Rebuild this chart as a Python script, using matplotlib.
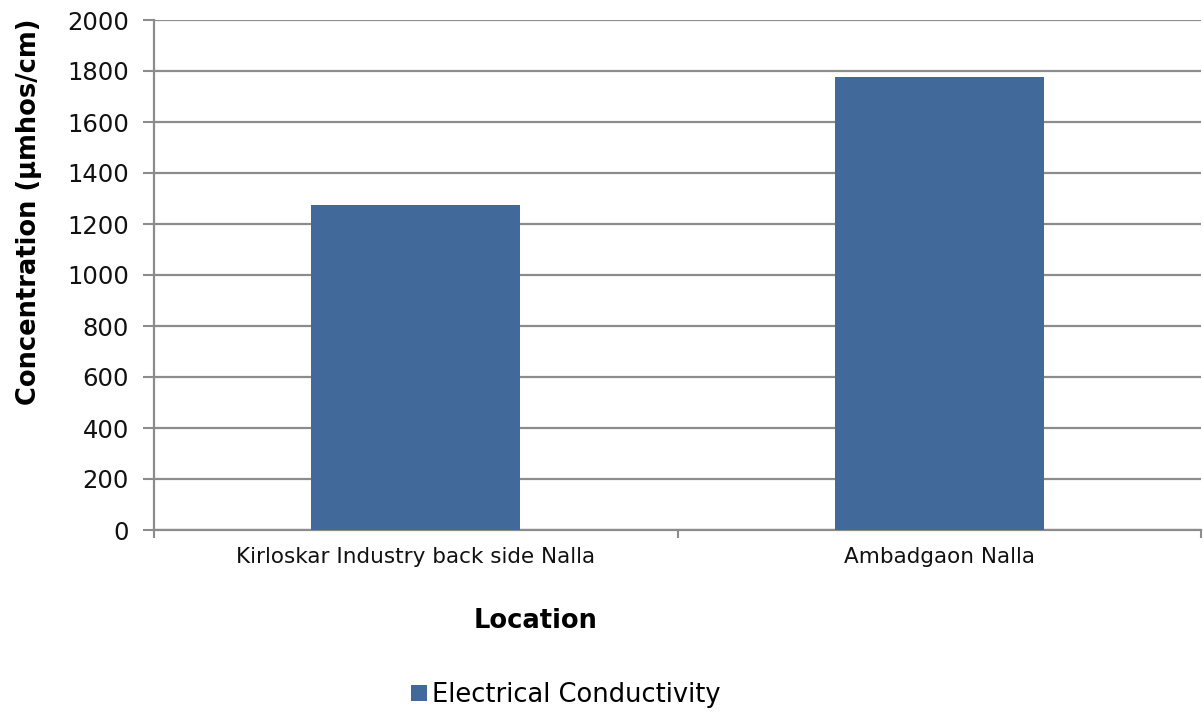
import numpy as np
import matplotlib.pyplot as plt

# Electrical conductivity at the sampling points
locations = ['Kirloskar Industry back side Nalla', 'Ambadgaon Nalla']
conductivity = [1275, 1775]
series_name = 'Electrical Conductivity'
y_ticks = [0, 200, 400, 600, 800, 1000, 1200, 1400, 1600, 1800, 2000]

bar_color = '#416a9b'
grid_color = '#8c8c8c'

plt.rcParams['font.family'] = ['DejaVu Sans']

fig = plt.figure(figsize=(12.03, 7.13), dpi=100)
ax = fig.add_axes([154 / 1203, 1 - 530 / 713, (1201 - 154) / 1203, 510 / 713])

x = np.arange(len(locations))
ax.bar(x, conductivity, width=0.4, color=bar_color, zorder=3, label=series_name)

ax.set_xlim(-0.5, len(locations) - 0.5)
ax.set_ylim(0, 2000)
ax.set_yticks(y_ticks)
ax.set_yticklabels([str(v) for v in y_ticks], fontsize=17.5, color='#111111')
ax.yaxis.grid(True, color=grid_color, linewidth=1.6, zorder=0)

# category boundaries carry the tick marks, labels sit at the centres
ax.set_xticks(np.arange(len(locations) + 1) - 0.5)
ax.set_xticklabels([])
ax.set_xticks(x, minor=True)
ax.set_xticklabels(locations, minor=True, fontsize=15.5, color='#111111')
ax.tick_params(axis='x', which='minor', length=0, pad=12)
ax.tick_params(axis='x', which='major', length=6, width=1.5, color=grid_color, direction='out')
ax.tick_params(axis='y', length=8, width=1.5, color=grid_color, direction='out', pad=10)

ax.spines['top'].set_visible(False)
ax.spines['right'].set_visible(False)
for side in ['left', 'bottom']:
    ax.spines[side].set_color(grid_color)
    ax.spines[side].set_linewidth(1.6)

ax.set_ylabel('Concentration (μmhos/cm)', fontsize=18.5, fontweight='bold')
ax.yaxis.set_label_coords(-(154 - 42) / 1047, 1 - (212 - 20) / 510)
fig.text(536 / 1203, 1 - 621 / 713, 'Location', fontsize=18.5, fontweight='bold',
         ha='center', va='center')

fig.legend(loc='center', bbox_to_anchor=(566 / 1203, 1 - 695 / 713), frameon=False,
           fontsize=18.5, handlelength=0.6, handleheight=0.6, handletextpad=0.2)

fig.savefig('out.png', dpi=100)
